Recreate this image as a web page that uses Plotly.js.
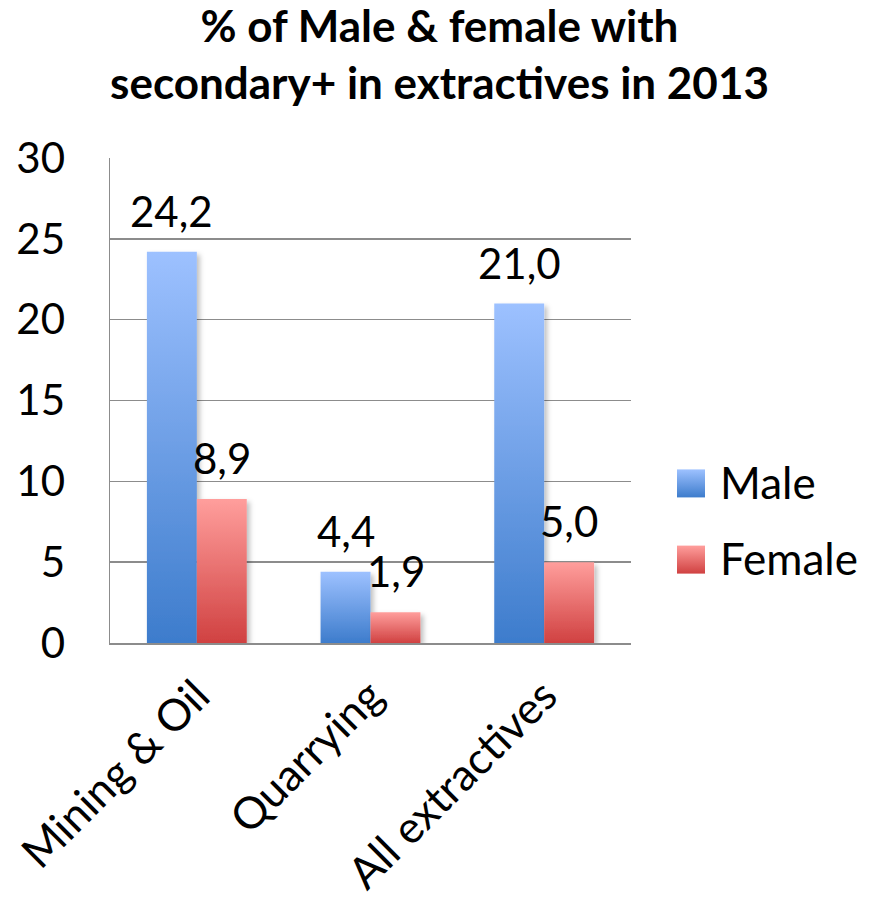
<!DOCTYPE html>
<html>
<head>
<meta charset="utf-8">
<script src="https://cdn.plot.ly/plotly-3.0.1.min.js"></script>
<style>
  html, body { margin: 0; padding: 0; background: #fff; }
  #chart { width: 879px; height: 899px; }
</style>
</head>
<body>
<div id="chart"></div>
<script>
// Share of workers with secondary+ education in extractives, 2013
const categories = ['Mining & Oil', 'Quarrying', 'All extractives'];
const maleValues = [24.2, 4.4, 21.0];
const femaleValues = [8.9, 1.9, 5.0];
const seriesNames = ['Male', 'Female'];
const yTicks = [0, 5, 10, 15, 20, 25, 30];

const FONT = 'Lato, "Open Sans", sans-serif';
const GRID = '#8c8c8c';

function fmt(v) { return v.toFixed(1).replace('.', ','); }

const traces = [
  { type: 'bar', name: seriesNames[0], x: categories, y: maleValues,
    marker: { color: '#6a9ce6', line: { width: 0 } }, legendgroup: 'm',
    hoverinfo: 'skip' },
  { type: 'bar', name: seriesNames[1], x: categories, y: femaleValues,
    marker: { color: '#e87070', line: { width: 0 } }, legendgroup: 'f',
    hoverinfo: 'skip' }
];

// value labels sitting above each bar
const annotations = [];
[maleValues, femaleValues].forEach((vals, s) => {
  vals.forEach((v, i) => {
    annotations.push({
      x: categories[i], y: v, xref: 'x', yref: 'y',
      text: fmt(v), showarrow: false,
      xanchor: 'center', yanchor: 'bottom',
      xshift: s === 0 ? -25 : 25, yshift: 14,
      font: { family: FONT, size: 42, color: '#000' }
    });
  });
});

const layout = {
  width: 879, height: 899,
  paper_bgcolor: '#fff', plot_bgcolor: '#fff',
  margin: { l: 110, r: 248, t: 158, b: 256 },
  separators: ',.',
  title: {
    text: '<b>% of Male & female with<br>secondary+ in extractives in 2013</b>',
    font: { family: FONT, size: 44, color: '#000' },
    x: 0.5, xanchor: 'center', xref: 'container',
    y: 0.953, yanchor: 'top', yref: 'container'
  },
  barmode: 'group',
  bargap: 0.425, bargroupgap: 0,
  xaxis: {
    type: 'category',
    tickangle: -45,
    tickfont: { family: FONT, size: 44, color: '#000' },
    showline: true, linecolor: GRID, linewidth: 1.5,
    ticks: '', showgrid: false, ticklabelstandoff: 8,
    fixedrange: true
  },
  yaxis: {
    range: [0, 30], tickvals: yTicks, ticktext: yTicks.map(String),
    tickfont: { family: FONT, size: 42, color: '#000' },
    showline: true, linecolor: GRID, linewidth: 1.5,
    showgrid: true, gridcolor: GRID, gridwidth: 1.5,
    zeroline: false, ticks: '', ticklabelstandoff: 35,
    fixedrange: true
  },
  showlegend: true,
  legend: {
    x: 680 / 879, xref: 'container', xanchor: 'left',
    y: 0.254, yanchor: 'middle',
    font: { family: FONT, size: 44, color: '#000' },
    tracegroupgap: 16, traceorder: 'grouped',
    bgcolor: 'rgba(0,0,0,0)', borderwidth: 0
  },
  annotations: annotations
};

// vertical gradients and soft shadow for the bars
function addGradients(gd) {
  const svg = gd.querySelector('.main-svg');
  const ns = 'http://www.w3.org/2000/svg';
  let defs = svg.querySelector('defs');
  const specs = [
    { id: 'gradMale', top: '#9dc1ff', bottom: '#3d7ccc' },
    { id: 'gradFemale', top: '#ff9e9c', bottom: '#d04141' }
  ];
  specs.forEach(sp => {
    const g = document.createElementNS(ns, 'linearGradient');
    g.setAttribute('id', sp.id);
    g.setAttribute('x1', '0'); g.setAttribute('y1', '0');
    g.setAttribute('x2', '0'); g.setAttribute('y2', '1');
    const s1 = document.createElementNS(ns, 'stop');
    s1.setAttribute('offset', '0'); s1.setAttribute('stop-color', sp.top);
    const s2 = document.createElementNS(ns, 'stop');
    s2.setAttribute('offset', '1'); s2.setAttribute('stop-color', sp.bottom);
    g.appendChild(s1); g.appendChild(s2);
    defs.appendChild(g);
  });
  const f = document.createElementNS(ns, 'filter');
  f.setAttribute('id', 'barShadow');
  f.setAttribute('x', '-20%'); f.setAttribute('y', '-20%');
  f.setAttribute('width', '140%'); f.setAttribute('height', '140%');
  const ds = document.createElementNS(ns, 'feDropShadow');
  ds.setAttribute('dx', '3'); ds.setAttribute('dy', '3');
  ds.setAttribute('stdDeviation', '2.5');
  ds.setAttribute('flood-color', '#000'); ds.setAttribute('flood-opacity', '0.25');
  f.appendChild(ds);
  defs.appendChild(f);

  const ids = ['gradMale', 'gradFemale'];
  gd.querySelectorAll('.barlayer .trace.bars').forEach((tr, t) => {
    tr.setAttribute('filter', 'url(#barShadow)');
    tr.querySelectorAll('.point path').forEach(p => {
      p.style.fill = 'url(#' + ids[t] + ')';
    });
  });

  // let the enlarged legend swatches extend past the legend's clip box
  gd.querySelectorAll('.legend [clip-path]').forEach(el => el.removeAttribute('clip-path'));

  // larger legend swatches placed just left of each label
  gd.querySelectorAll('.legend .traces').forEach((tr, t) => {
    const txt = tr.querySelector('text.legendtext');
    const textLeft = txt ? txt.getBoundingClientRect().left : null;
    tr.querySelectorAll('.legendpoints path').forEach(p => {
      const r = p.getBoundingClientRect();
      const cx = r.left + r.width / 2;
      const size = 28;
      const right = (textLeft !== null ? textLeft - 15 : cx + 14) - cx;
      const left = right - size;
      p.setAttribute('d', 'M' + left + ',-12H' + right + 'V' + (size - 12) + 'H' + left + 'Z');
      p.style.fill = 'url(#' + ids[t] + ')';
      p.style.stroke = 'none';
    });
  });
}

const gd = document.getElementById('chart');
Plotly.newPlot(gd, traces, layout, { displayModeBar: false, staticPlot: true })
  .then(addGradients);
</script>
</body>
</html>
